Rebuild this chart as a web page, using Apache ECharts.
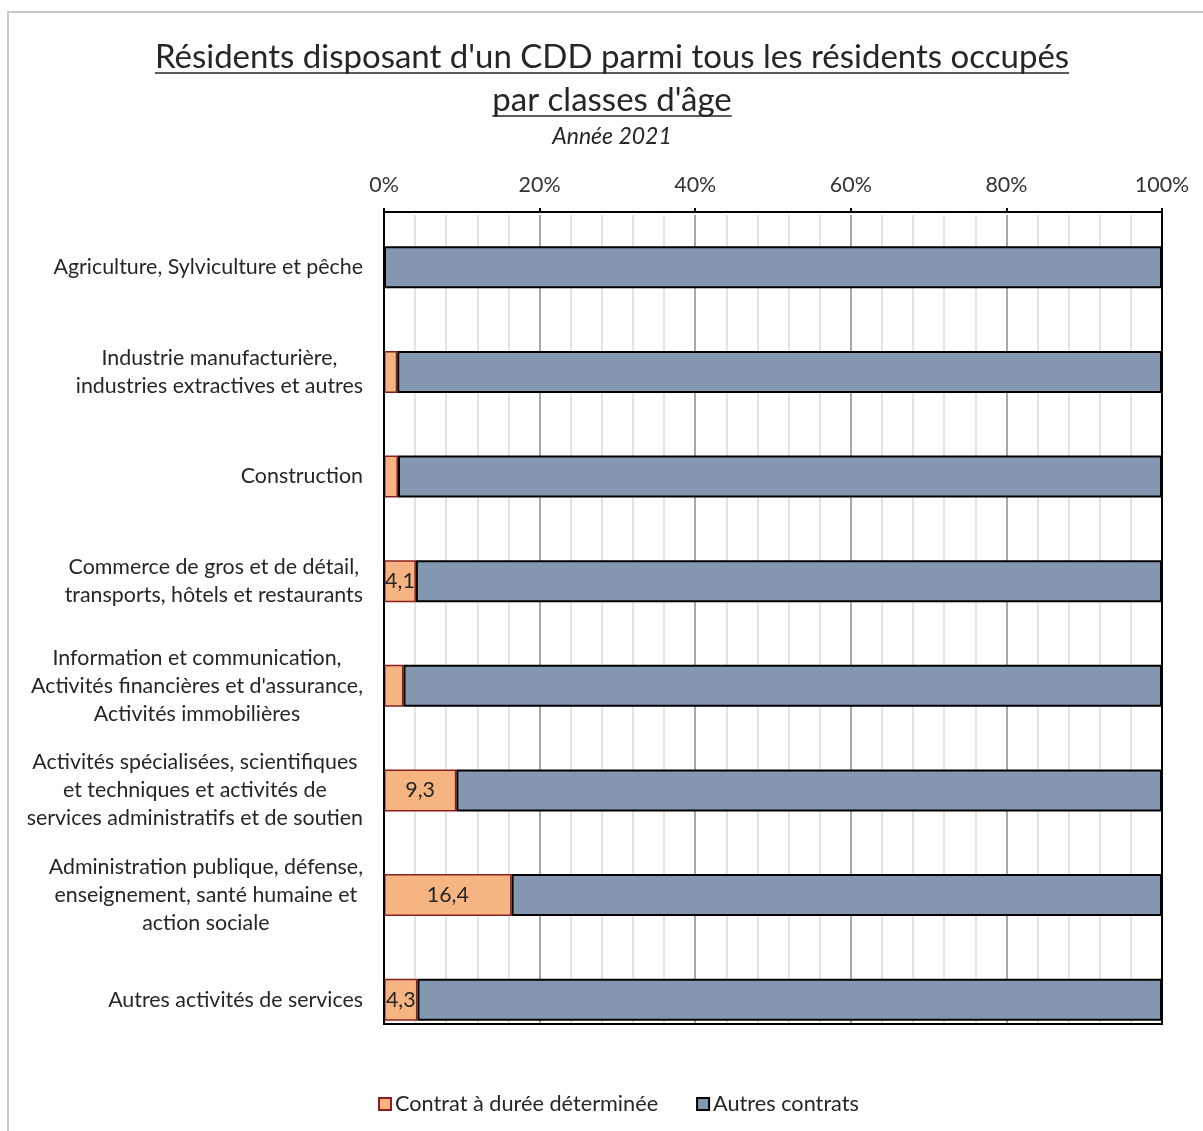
<!DOCTYPE html>
<html>
<head>
<meta charset="utf-8">
<script src="https://cdn.jsdelivr.net/npm/echarts@6/dist/echarts.min.js"></script>
<style>html,body{margin:0;padding:0;background:#fff}#c{width:1203px;height:1131px}</style>
</head>
<body>
<div id="c"></div>
<script>
const categories = [
  "Agriculture, Sylviculture et pêche",
  "Industrie manufacturière,\nindustries extractives et autres",
  "Construction",
  "Commerce de gros et de détail,\ntransports, hôtels et restaurants",
  "Information et communication,\nActivités financières et d'assurance,\nActivités immobilières",
  "Activités spécialisées, scientifiques\net techniques et activités de\nservices administratifs et de soutien",
  "Administration publique, défense,\nenseignement, santé humaine et\naction sociale",
  "Autres activités de services"
];
const cddValues = [0, 1.7, 1.8, 4.1, 2.5, 9.3, 16.4, 4.3];
const autresValues = [100, 98.3, 98.2, 95.9, 97.5, 90.7, 83.6, 95.7];
const labelledValues = [4.1, 9.3, 16.4, 4.3];
const xTicks = [0, 20, 40, 60, 80, 100];
const titleLines = ["Résidents disposant d'un CDD parmi tous les résidents occupés", "par classes d'âge"];
const subtitle = "Année 2021";
const seriesNames = ["Contrat à durée déterminée", "Autres contrats"];

const FONT = 'Lato, "Open Sans", sans-serif';
const titleSize = 33;
const labelSize = 21.4;
const legendSize = 21.7;
const cx = 612;

function textWidth(t, size, family) {
  const c = document.createElement('canvas').getContext('2d');
  c.font = size + 'px ' + family;
  return c.measureText(t).width;
}

const chart = echarts.init(document.getElementById('c'), null, {renderer: 'canvas'});

// plot frame (as in the reference) and grid geometry
const plotL = 384, plotR = 1162, plotT = 212, plotB = 1024;
const gridTop = 215, gridBottomY = 1052;

const titleY = [57, 100];
const graphics = [
  {type: 'rect', shape: {x: 8, y: 12, width: 1250, height: 1200}, style: {fill: 'none', stroke: '#c8c8c8', lineWidth: 2}, z: -10},
  {type: 'rect', shape: {x: plotL - 2, y: plotB + 1, width: plotR - plotL + 4, height: gridBottomY - plotB + 2}, style: {fill: '#fff'}, z: 50},
  {type: 'rect', shape: {x: plotL, y: plotT, width: plotR - plotL, height: plotB - plotT}, style: {fill: 'none', stroke: '#000', lineWidth: 2}, z: 51}
];
titleLines.forEach((t, i) => {
  const w = textWidth(t, titleSize, 'Lato');
  graphics.push({type: 'text', x: cx, y: titleY[i], style: {text: t, align: 'center', verticalAlign: 'middle', fontSize: titleSize, fontFamily: FONT, fill: '#262626'}});
  graphics.push({type: 'line', shape: {x1: cx - w / 2, y1: titleY[i] + 16, x2: cx + w / 2, y2: titleY[i] + 16}, style: {stroke: '#262626', lineWidth: 1.5}});
});
graphics.push({type: 'text', x: cx, y: 137, style: {text: subtitle, align: 'center', verticalAlign: 'middle', fontSize: 23, fontStyle: 'italic', fontFamily: FONT, fill: '#262626'}});

const option = {
  animation: false,
  backgroundColor: '#fff',
  graphic: graphics,
  legend: {
    data: seriesNames,
    top: 1088,
    left: 373,
    itemWidth: 12,
    itemHeight: 12,
    itemGap: 38,
    textStyle: {fontSize: legendSize, fontFamily: FONT, color: '#262626', padding: [0, 0, 0, -1]},
    icon: 'rect'
  },
  grid: {left: plotL, right: 1203 - plotR, top: gridTop, bottom: 1131 - gridBottomY, containLabel: false},
  xAxis: {
    type: 'value', position: 'top', min: 0, max: 100, interval: 20, offset: gridTop - plotT,
    axisLine: {show: false},
    axisTick: {show: true, length: 4, lineStyle: {color: '#000', width: 2}},
    axisLabel: {formatter: v => xTicks.includes(v) ? v + '%' : '', fontSize: labelSize, fontFamily: FONT, color: '#333', margin: 16},
    splitLine: {show: true, lineStyle: {color: '#a8a8a8', width: 2}},
    minorTick: {show: false, splitNumber: 5},
    minorSplitLine: {show: true, lineStyle: {color: '#e3e3e3', width: 2}}
  },
  yAxis: {
    type: 'category', inverse: true, data: categories,
    axisLine: {show: false},
    axisTick: {show: false},
    axisLabel: {
      margin: 21, align: 'right', fontSize: labelSize, fontFamily: FONT, color: '#262626', lineHeight: 28,
      formatter: v => v.split('\n').map(l => '{c|' + l + '}').join('\n'),
      rich: {c: {align: 'center', fontSize: labelSize, fontFamily: FONT, color: '#262626', lineHeight: 28}}
    }
  },
  series: [
    {
      name: seriesNames[0], type: 'bar', stack: 't', data: cddValues, barWidth: 42,
      itemStyle: {color: '#f5b482', borderColor: '#8b1f1f', borderWidth: 1.5},
      label: {
        show: true, position: 'inside', fontSize: labelSize, fontFamily: FONT, color: '#262626',
        formatter: p => labelledValues.includes(p.value) ? String(p.value).replace('.', ',') : ''
      }
    },
    {
      name: seriesNames[1], type: 'bar', stack: 't', data: autresValues, barWidth: 42,
      itemStyle: {color: '#8497b0', borderColor: '#000', borderWidth: 2}
    }
  ]
};
chart.setOption(option);
</script>
</body>
</html>
